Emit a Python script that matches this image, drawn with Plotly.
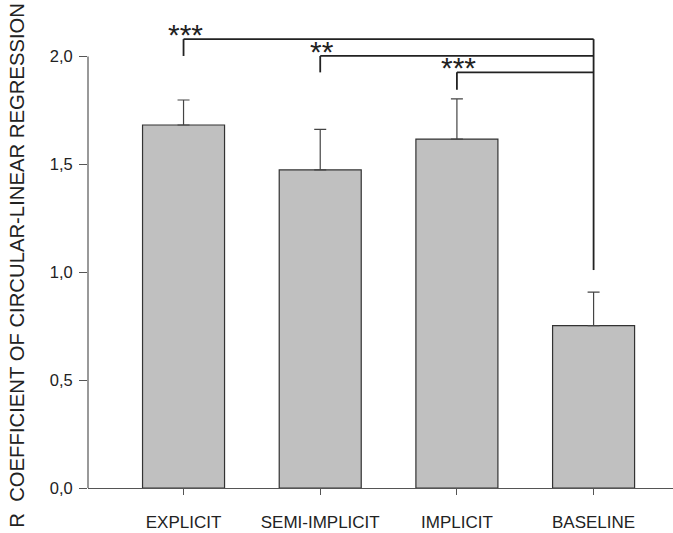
import plotly.graph_objects as go

categories = ["EXPLICIT", "SEMI-IMPLICIT", "IMPLICIT", "BASELINE"]
means = [1.682, 1.474, 1.617, 0.752]
errors = [0.116, 0.188, 0.186, 0.156]
y_ticks = [0.0, 0.5, 1.0, 1.5, 2.0]

# significance brackets: (from category index, to category index, bracket level, drop bottom, stars)
brackets = [
    (0, 3, 2.080, 2.002, "***"),
    (1, 3, 2.002, 1.926, "**"),
    (2, 3, 1.926, 1.845, "***"),
]
baseline_line_bottom = 1.01

FONT = "Liberation Sans, Arial, sans-serif"
AX = "#555555"
INK = "#222222"

fig = go.Figure()
fig.add_trace(go.Bar(
    x=categories, y=means, width=0.6,
    marker=dict(color="#c0c0c0", line=dict(color="#333333", width=1.2)),
    error_y=dict(type="data", array=errors, arrayminus=[0] * len(errors),
                 symmetric=False, color="#444444", thickness=1.2, width=6),
))

shapes = []
# y axis line from 0 to 2.0
shapes.append(dict(type="line", xref="paper", yref="y", x0=0, x1=0, y0=0, y1=2.0,
                   line=dict(color=AX, width=1.2)))
annotations = []
for i0, i1, lvl, bottom, stars in brackets:
    c0 = categories[i0]
    c1 = categories[i1]
    shapes.append(dict(type="line", xref="x", yref="y", x0=c0, x1=c1, y0=lvl, y1=lvl,
                       line=dict(color=INK, width=1.8)))
    shapes.append(dict(type="line", xref="x", yref="y", x0=c0, x1=c0, y0=lvl, y1=bottom,
                       line=dict(color=INK, width=1.8)))
    annotations.append(dict(x=c0, y=lvl, xref="x", yref="y", text=stars, showarrow=False,
                            xanchor="center", yanchor="bottom", xshift=2, yshift=-14,
                            font=dict(family=FONT, size=30, color=INK)))
shapes.append(dict(type="line", xref="x", yref="y", x0=categories[3], x1=categories[3],
                   y0=brackets[0][2], y1=baseline_line_bottom,
                   line=dict(color=INK, width=1.8)))

annotations.append(dict(
    x=-0.1214, y=0.467, xref="paper", yref="paper", showarrow=False, textangle=-90,
    text="R\u00a0\u00a0COEFFICIENT OF CIRCULAR-LINEAR REGRESSION",
    xanchor="center", yanchor="middle",
    font=dict(family=FONT, size=20.3, color=INK)))

fig.update_layout(
    width=673, height=533,
    margin=dict(l=88, r=0, t=10, b=45),
    plot_bgcolor="white", paper_bgcolor="white",
    separators=",.",
    showlegend=False,
    shapes=shapes, annotations=annotations,
    font=dict(family=FONT, size=17, color=INK),
    xaxis=dict(type="category", range=[-0.699, 3.581], showline=True, linecolor=AX,
               linewidth=1.2, ticks="outside", ticklen=6, tickcolor=AX, tickwidth=1.2,
               showgrid=False, zeroline=False, ticklabelstandoff=12, automargin=False,
               tickfont=dict(family=FONT, size=17, color=INK)),
    yaxis=dict(range=[0, 2.215], showline=False, ticks="outside", ticklen=8, tickcolor=AX,
               tickwidth=1.2, tickvals=y_ticks, tickformat=".1f", showgrid=False,
               zeroline=False, ticklabelstandoff=3, automargin=False,
               tickfont=dict(family=FONT, size=16.5, color=INK)),
)

fig.write_html("out.html")
